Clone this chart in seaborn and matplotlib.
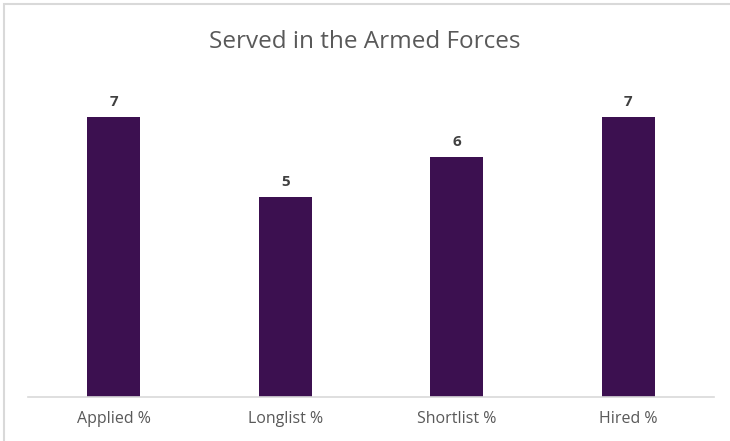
import matplotlib
matplotlib.use('Agg')
import matplotlib.pyplot as plt
import seaborn as sns
import pandas as pnd

# ----------------------
categories = ['Applied %', 'Longlist %', 'Shortlist %', 'Hired %']
values     = [7, 5, 6, 7]
title      = 'Served in the Armed Forces'

bar_color  = '#3C1050'
text_color = '#595959'
# ----------------------
def main():
    sns.set_theme(style='white')
    plt.rcParams['font.family'] = ['Open Sans', 'DejaVu Sans']

    df  = pnd.DataFrame({'category' : categories, 'value' : values})
    fig = plt.figure(figsize=(7.30, 4.41), dpi=100)
    ax  = fig.add_axes([0.0384, 0.0998, 0.9396, 0.726])

    sns.barplot(data=df, x='category', y='value', color=bar_color, width=0.31,
                saturation=1, linewidth=0, ax=ax)

    for cont in ax.containers:
        ax.bar_label(cont, padding=6, fontsize=11, fontweight='bold', color='#404040')

    ax.set_ylim(0, 8)
    ax.set_xlim(-0.5, 3.5)
    ax.set_yticks([])
    ax.set_xlabel('')
    ax.set_ylabel('')
    ax.tick_params(axis='x', length=0, pad=10, labelsize=11.5, labelcolor=text_color)
    for side in ['left', 'right', 'top']:
        ax.spines[side].set_visible(False)
    ax.spines['bottom'].set_color('#D9D9D9')
    ax.spines['bottom'].set_linewidth(1.2)

    fig.text(0.5, 0.905, title, ha='center', va='center', fontsize=17.5, color=text_color)

    # chart frame
    frame = plt.Rectangle((0.005, -0.05), 1.0, 1.04, transform=fig.transFigure,
                          fill=False, edgecolor='#D9D9D9', linewidth=1.5)
    fig.patches.append(frame)

    fig.savefig('out.png', dpi=100)
    plt.close(fig)
# ----------------------
if __name__ == '__main__':
    main()
